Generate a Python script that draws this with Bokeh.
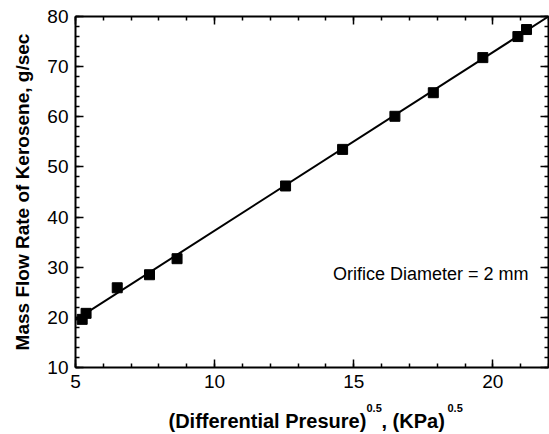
from bokeh.plotting import figure
from bokeh.models import Label, LinearAxis, FixedTicker, Range1d
from bokeh.layouts import column
from bokeh.embed import file_html
from bokeh.resources import INLINE

# data
sqrt_dp = [5.24, 5.38, 6.50, 7.66, 8.65, 12.55, 14.60, 16.48, 17.86, 19.64, 20.90, 21.21]
mass_flow = [19.6, 20.8, 25.9, 28.5, 31.7, 46.2, 53.5, 60.1, 64.8, 71.8, 76.0, 77.4]
fit_x = [5.0, 22.0]
fit_y = [19.5, 80.0]
x_major = [5, 10, 15, 20]
x_minor = list(range(5, 23))
y_major = [10, 20, 30, 40, 50, 60, 70, 80]
y_minor = list(range(10, 81, 2))

FONT = "Liberation Sans"
W = 549
ML, MR = 75, 1

p = figure(width=W, height=400, x_range=Range1d(5, 22), y_range=Range1d(10, 80),
           output_backend="svg", toolbar_location=None,
           min_border_left=ML, min_border_right=MR, min_border_top=16, min_border_bottom=33)
p.xgrid.visible = False
p.ygrid.visible = False
p.outline_line_color = None

def style_axis(ax, ticks, minor, labels=True):
    ax.ticker = FixedTicker(ticks=ticks, minor_ticks=minor)
    ax.axis_line_width = 2
    ax.axis_line_color = "black"
    ax.major_tick_in = 8
    ax.major_tick_out = 0
    ax.minor_tick_in = 4
    ax.minor_tick_out = 0
    ax.major_tick_line_width = 1.5
    ax.minor_tick_line_width = 1.5
    ax.major_tick_line_color = "black"
    ax.minor_tick_line_color = "black"
    if labels:
        ax.major_label_text_font = FONT
        ax.major_label_text_font_size = "19px"
        ax.major_label_text_color = "black"
    else:
        ax.major_label_text_font_size = "0px"
        ax.major_label_text_color = None
        ax.major_label_standoff = 0

style_axis(p.xaxis[0], x_major, x_minor)
style_axis(p.yaxis[0], y_major, y_minor)
p.xaxis[0].major_label_standoff = 7
p.yaxis[0].major_label_standoff = 7

p.yaxis[0].axis_label = "Mass Flow Rate of Kerosene, g/sec"
p.yaxis[0].axis_label_text_font = FONT
p.yaxis[0].axis_label_text_font_style = "bold"
p.yaxis[0].axis_label_text_font_size = "19px"
p.yaxis[0].axis_label_text_color = "black"
p.yaxis[0].axis_label_standoff = 11

top = LinearAxis()
style_axis(top, x_major, x_minor, labels=False)
p.add_layout(top, "above")
right = LinearAxis()
style_axis(right, y_major, y_minor, labels=False)
p.add_layout(right, "right")

p.line(fit_x, fit_y, line_color="black", line_width=2)
p.scatter(sqrt_dp, mass_flow, marker="square", size=10, fill_color="black", line_color="black")

p.add_layout(Label(x=p.x_range.end, y=27.15, x_offset=-20, y_offset=8,
                   text="Orifice Diameter = 2 mm",
                   text_font=FONT, text_font_size="18px", text_color="black",
                   text_align="right", text_baseline="alphabetic"))

# strip below the chart holding the x-axis title (with superscripts)
p2 = figure(width=W, height=34, x_range=p.x_range, y_range=Range1d(0, 34),
            output_backend="svg", toolbar_location=None, x_axis_type=None, y_axis_type=None,
            min_border_left=ML, min_border_right=MR, min_border_top=0, min_border_bottom=0)
p2.xgrid.visible = False
p2.ygrid.visible = False
p2.outline_line_color = None

x0 = p.x_range.start
pieces = [
    ("(Differential Presure)", 93, 14, "20px"),
    ("0.5", 291, 27, "11px"),
    (", (KPa)", 306, 14, "20px"),
    ("0.5", 372, 27, "11px"),
]
for txt, xo, yy, fs in pieces:
    p2.add_layout(Label(x=x0, y=yy, x_offset=xo, text=txt,
                        text_font=FONT, text_font_style="bold", text_font_size=fs,
                        text_color="black", text_align="left", text_baseline="alphabetic"))

layout = column(p, p2, spacing=0)
open("out.html", "w").write(file_html(layout, INLINE))
